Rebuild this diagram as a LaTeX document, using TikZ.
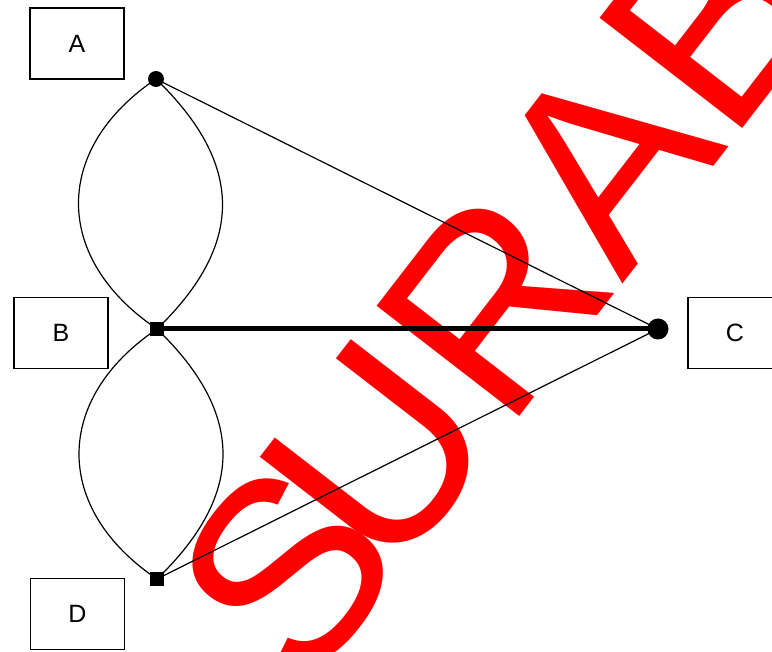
\documentclass[tikz,border=0pt]{standalone}
\usepackage{fontspec}
\setmainfont{Liberation Sans}
\begin{document}
\begin{tikzpicture}[x=1pt,y=-1pt,
  labelbox/.style={draw=black,line width=1.8pt,rectangle,inner sep=0pt,
    minimum width=94pt,minimum height=71pt,font=\fontsize{25}{25}\selectfont},
  rounddot/.style={circle,fill=black,inner sep=0pt,minimum size=#1},
  squaredot/.style={rectangle,fill=black,inner sep=0pt,minimum size=14pt},
  thinedge/.style={line width=1.2pt,black},
  thickedge/.style={line width=5pt,black},
  stamp/.style={text=red,inner sep=0pt,anchor=base west,rotate=52.3,
    font=\fontsize{262}{262}\selectfont}]
\useasboundingbox (0,0) rectangle (772,652);
\clip (0,0) rectangle (772,652);
\fill[white] (0,0) rectangle (772,652);

% red stamp text behind the graph (tight S-U spacing)
\node[stamp] (wm) at (304,696) {S\kern-33pt URABAYA};

% label boxes
\node[labelbox] (la) at (77,43.5) {A};
\node[labelbox] (lb) at (61,333) {B};
\node[labelbox] (lc) at (735,333) {C};
\node[labelbox] (ld) at (77.5,614) {D};

% vertices
\node[rounddot=16pt] (a) at (156,79) {};
\node[squaredot] (b) at (157,329) {};
\node[rounddot=21pt] (c) at (658,329) {};
\node[squaredot] (d) at (157,579) {};

% lens-shaped double edges A-B and B-D
\draw[thinedge] (a.center) .. controls +(-104,70) and +(-104,-70) .. (b.center);
\draw[thinedge] (a.center) .. controls +(88,85) and +(88,-85) .. (b.center);
\draw[thinedge] (b.center) .. controls +(-104,70) and +(-104,-70) .. (d.center);
\draw[thinedge] (b.center) .. controls +(88,85) and +(88,-85) .. (d.center);

% straight edges to C
\draw[thinedge] (a.center) -- (c.center);
\draw[thinedge] (d.center) -- (c.center);
\draw[thickedge] (b.center) -- (c.center);
\end{tikzpicture}
\end{document}
